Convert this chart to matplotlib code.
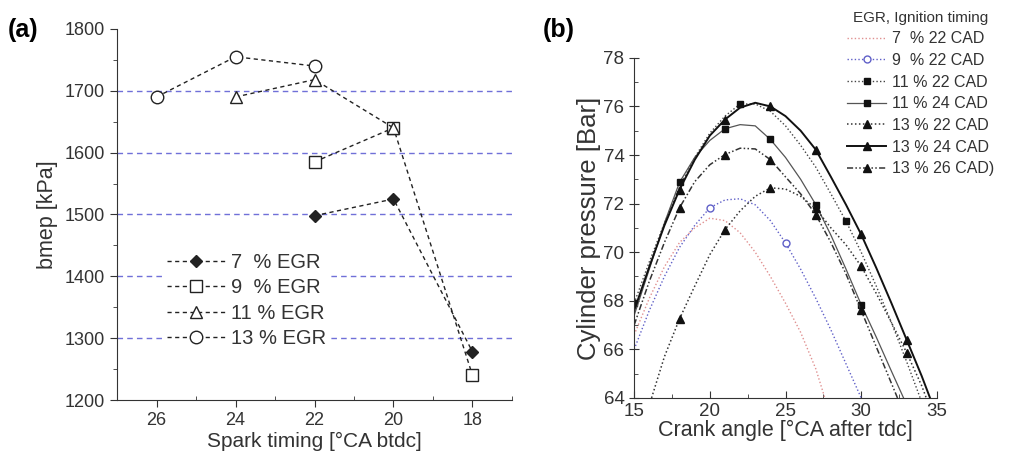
import numpy as np
import matplotlib
matplotlib.use('Agg')
import matplotlib.pyplot as plt
from matplotlib.ticker import MultipleLocator

plt.rcParams['font.family'] = ['Liberation Sans', 'DejaVu Sans']

# ---------------- panel (a) data ----------------
spark_7 = [22, 20, 18]
bmep_7 = [1498, 1525, 1278]
spark_9 = [22, 20, 18]
bmep_9 = [1585, 1640, 1240]
spark_11 = [24, 22, 20]
bmep_11 = [1690, 1718, 1640]
spark_13 = [26, 24, 22]
bmep_13 = [1690, 1755, 1740]
grid_levels = [1300, 1400, 1500, 1600, 1700]

# ---------------- panel (b) data ----------------
ca_7_22 = [15, 16, 17, 18, 19, 20, 21, 22, 23, 24, 25, 26, 27, 27.6]
p_7_22 = [66.6, 68.1, 69.4, 70.4, 71.0, 71.4, 71.3, 70.8, 70.0, 69.0, 67.9, 66.7, 65.2, 64.0]

ca_9_22 = [15, 16, 17, 18, 19, 20, 21, 22, 23, 24, 25, 26, 27, 28, 29, 30]
p_9_22 = [66.0, 67.6, 69.0, 70.2, 71.1, 71.83, 72.15, 72.2, 71.95, 71.3, 70.38, 69.3, 68.1, 66.8, 65.4, 64.0]
mk_9_22 = [20, 25]

ca_11_22 = [15, 16, 17, 18, 19, 20, 21, 22, 23, 24, 25, 26, 27, 28, 29, 30, 31, 32, 33, 33.9]
p_11_22 = [67.9, 69.6, 71.2, 72.7, 73.9, 74.9, 75.6, 76.1, 76.1, 75.8, 75.2, 74.4, 73.5, 72.4, 71.27,
           70.0, 68.6, 67.1, 65.5, 64.0]
mk_11_22 = [15, 22, 29]

ca_11_24 = [15, 16, 17, 18, 19, 20, 21, 22, 23, 24, 25, 26, 27, 28, 29, 30, 31, 32, 32.8]
p_11_24 = [67.4, 69.3, 71.2, 72.88, 73.9, 74.6, 75.08, 75.25, 75.2, 74.64, 73.9, 73.0, 71.96, 70.7,
           69.3, 67.84, 66.5, 65.1, 64.0]
mk_11_24 = [18, 21, 24, 27, 30]

ca_13_22 = [16.15, 17, 18, 19, 20, 21, 22, 23, 24, 25, 26, 27, 28, 29, 30, 31, 32, 33, 34, 34.3]
p_13_22 = [64.0, 65.7, 67.26, 68.6, 69.9, 70.93, 71.7, 72.3, 72.65, 72.6, 72.3, 71.8, 71.0, 70.3,
           69.42, 68.3, 67.1, 65.87, 64.5, 64.0]
mk_13_22 = [18, 21, 24, 27, 30, 33]

ca_13_24 = [15, 16, 17, 18, 19, 20, 21, 22, 23, 24, 25, 26, 27, 28, 29, 30, 31, 32, 33, 34, 34.55]
p_13_24 = [67.6, 69.4, 71.1, 72.58, 73.8, 74.8, 75.46, 75.95, 76.15, 76.0, 75.6, 75.0, 74.22, 73.1,
           71.95, 70.73, 69.35, 67.9, 66.4, 64.9, 64.0]
mk_13_24 = [18, 21, 24, 27, 30, 33]

ca_13_26 = [15, 16, 17, 18, 19, 20, 21, 22, 23, 24, 25, 26, 27, 28, 29, 30, 31, 32, 32.4]
p_13_26 = [67.0, 68.8, 70.4, 71.83, 72.9, 73.6, 74.02, 74.28, 74.25, 73.81, 73.1, 72.4, 71.55, 70.4,
           69.1, 67.6, 66.1, 64.6, 64.0]
mk_13_26 = [18, 21, 24, 27, 30]

fig = plt.figure(figsize=(10.09, 4.59), dpi=100)
txt = '#333333'

# ======================= panel (a) =======================
ax = fig.add_axes([0.116, 0.1285, 0.3914, 0.8085])
for lv in grid_levels:
    ax.axhline(lv, color='#7070d8', lw=1.0, ls=(0, (4, 3)), zorder=0)

dash = (0, (3, 2.5))
ax.plot(spark_7, bmep_7, color='#222222', lw=1, ls=dash, marker='D', ms=6,
        mfc='#222222', mec='#222222', label='7  % EGR')
ax.plot(spark_9, bmep_9, color='#222222', lw=1, ls=dash, marker='s', ms=9,
        mfc='white', mec='#222222', label='9  % EGR')
ax.plot(spark_11, bmep_11, color='#222222', lw=1, ls=dash, marker='^', ms=9,
        mfc='white', mec='#222222', label='11 % EGR')
ax.plot(spark_13, bmep_13, color='#222222', lw=1, ls=dash, marker='o', ms=9,
        mfc='white', mec='#222222', label='13 % EGR')

ax.set_xlim(27, 17)
ax.set_ylim(1200, 1800)
ax.set_xticks([26, 24, 22, 20, 18])
ax.xaxis.set_minor_locator(MultipleLocator(1))
ax.yaxis.set_major_locator(MultipleLocator(100))
ax.yaxis.set_minor_locator(MultipleLocator(50))
ax.tick_params(axis='both', which='major', labelsize=13, length=5, color=txt, labelcolor=txt)
ax.tick_params(axis='y', which='minor', length=3, direction='out', color=txt)
ax.tick_params(axis='x', which='minor', length=3, direction='in', color=txt)
for s in ['top', 'right']:
    ax.spines[s].set_visible(False)
for s in ['left', 'bottom']:
    ax.spines[s].set_color(txt)
ax.set_xlabel('Spark timing [°CA btdc]', fontsize=15, color=txt, labelpad=2)
ax.set_ylabel('bmep [kPa]', fontsize=15.5, color=txt, labelpad=5)
leg = ax.legend(loc='upper left', bbox_to_anchor=(0.09, 0.435), frameon=True, fontsize=14.5,
                handlelength=2.9, handletextpad=0.3, labelspacing=0.32, borderpad=0.2)
leg.get_frame().set_facecolor('white')
leg.get_frame().set_edgecolor('none')
leg.get_frame().set_alpha(1)
for t in leg.get_texts():
    t.set_color(txt)
fig.text(0.008, 0.935, '(a)', fontsize=18, fontweight='bold', va='center')

# ======================= panel (b) =======================
bx = fig.add_axes([0.6285, 0.133, 0.3, 0.741])


def mk_idx(xs, mx):
    return [xs.index(m) for m in mx]


bx.plot(ca_7_22, p_7_22, color='#e09090', lw=1.0, ls=(0, (1, 1.6)), label='7  % 22 CAD')
bx.plot(ca_9_22, p_9_22, color='#6060c8', lw=1.0, ls=(0, (1, 1.6)), marker='o', ms=5,
        mfc='white', mec='#6060c8', markevery=mk_idx(ca_9_22, mk_9_22), label='9  % 22 CAD')
bx.plot(ca_11_22, p_11_22, color='#444444', lw=1.0, ls=(0, (1, 1.6)), marker='s', ms=5,
        mfc='#111111', mec='#111111', markevery=mk_idx(ca_11_22, mk_11_22), label='11 % 22 CAD')
bx.plot(ca_11_24, p_11_24, color='#555555', lw=0.9, ls='-', marker='s', ms=5,
        mfc='#111111', mec='#111111', markevery=mk_idx(ca_11_24, mk_11_24), label='11 % 24 CAD')
bx.plot(ca_13_22, p_13_22, color='#333333', lw=1.1, ls=(0, (1, 1.6)), marker='^', ms=6,
        mfc='#111111', mec='#111111', markevery=mk_idx(ca_13_22, mk_13_22), label='13 % 22 CAD')
bx.plot(ca_13_24, p_13_24, color='#111111', lw=1.4, ls='-', marker='^', ms=6,
        mfc='#111111', mec='#111111', markevery=mk_idx(ca_13_24, mk_13_24), label='13 % 24 CAD')
bx.plot(ca_13_26, p_13_26, color='#333333', lw=1.1, ls=(0, (4, 1.5, 1, 1.5, 1, 1.5)), marker='^', ms=6,
        mfc='#111111', mec='#111111', markevery=mk_idx(ca_13_26, mk_13_26), label='13 % 26 CAD)')

bx.set_xlim(15, 35)
bx.set_ylim(64, 78)
bx.xaxis.set_major_locator(MultipleLocator(5))
bx.xaxis.set_minor_locator(MultipleLocator(2.5))
bx.yaxis.set_major_locator(MultipleLocator(2))
bx.yaxis.set_minor_locator(MultipleLocator(1))
bx.tick_params(axis='x', which='major', labelsize=13.5, length=5, direction='in',
               color=txt, labelcolor=txt)
bx.tick_params(axis='y', which='major', labelsize=13.5, length=7, direction='inout',
               color=txt, labelcolor=txt)
bx.tick_params(axis='both', which='minor', length=3, direction='in', color=txt)
for s in ['top', 'right']:
    bx.spines[s].set_visible(False)
for s in ['left', 'bottom']:
    bx.spines[s].set_color(txt)
bx.set_xlabel('Crank angle [°CA after tdc]', fontsize=15.5, color=txt, labelpad=0)
bx.set_ylabel('Cylinder pressure [Bar]', fontsize=18.5, color=txt, labelpad=2)

lg = bx.legend(loc='upper right', bbox_to_anchor=(0.995, 0.998), bbox_transform=fig.transFigure,
               title='EGR, Ignition timing', fontsize=11.5, title_fontsize=11, frameon=False,
               handlelength=2.4, handletextpad=0.4, labelspacing=0.42, borderpad=0.1)
for t in lg.get_texts():
    t.set_color(txt)
lg.get_title().set_color(txt)
fig.text(0.538, 0.935, '(b)', fontsize=18, fontweight='bold', va='center')

fig.savefig('out.png', dpi=100)
